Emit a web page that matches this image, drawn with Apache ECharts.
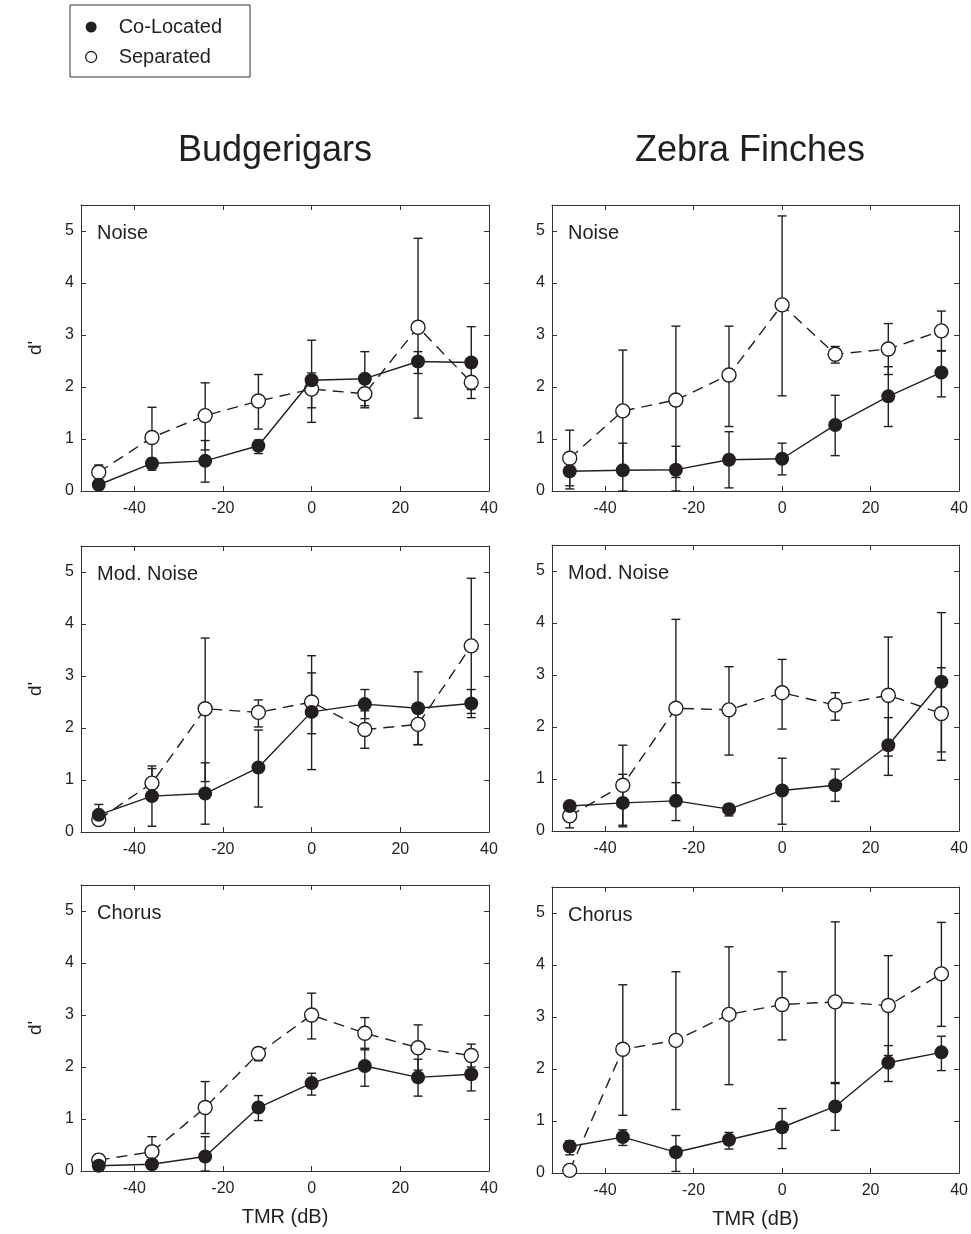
<!DOCTYPE html>
<html>
<head>
<meta charset="utf-8">
<script src="https://cdn.jsdelivr.net/npm/echarts@6/dist/echarts.min.js"></script>
<style>
  html, body { margin: 0; padding: 0; background: #fff; }
  #chart { width: 971px; height: 1234px; }
</style>
</head>
<body>
<div id="chart"></div>
<script>
// TMR values (dB) on the x axis
var tmr = [-48, -36, -24, -12, 0, 12, 24, 36];
var xTicks = [-40, -20, 0, 20, 40];
var yTicks = [0, 1, 2, 3, 4, 5];

// Budgerigars - Noise
var bNoiseCo    = [0.12, 0.53, 0.58, 0.87, 2.13, 2.16, 2.49, 2.47];
var bNoiseCoLo  = [0.04, 0.40, 0.17, 0.72, 1.60, 1.64, 2.26, 1.78];
var bNoiseCoHi  = [0.20, 0.63, 0.97, 0.98, 2.27, 2.68, 2.68, 3.16];
var bNoiseSep   = [0.36, 1.03, 1.45, 1.73, 1.96, 1.87, 3.15, 2.09];
var bNoiseSepLo = [0.22, 0.45, 0.79, 1.19, 1.32, 1.60, 1.40, 1.95];
var bNoiseSepHi = [0.50, 1.61, 2.08, 2.24, 2.90, 2.10, 4.86, 2.20];

// Zebra finches - Noise
var zNoiseCo    = [0.38, 0.40, 0.41, 0.60, 0.62, 1.27, 1.82, 2.28];
var zNoiseCoLo  = [0.04, 0.00, 0.00, 0.06, 0.31, 0.68, 1.24, 1.81];
var zNoiseCoHi  = [0.72, 0.92, 0.86, 1.14, 0.92, 1.84, 2.39, 2.69];
var zNoiseSep   = [0.63, 1.54, 1.75, 2.23, 3.58, 2.63, 2.73, 3.08];
var zNoiseSepLo = [0.10, 0.37, 0.26, 1.24, 1.83, 2.46, 2.24, 2.70];
var zNoiseSepHi = [1.17, 2.71, 3.17, 3.17, 5.29, 2.78, 3.22, 3.46];

// Budgerigars - Mod. Noise
var bModCo    = [0.33, 0.69, 0.74, 1.24, 2.31, 2.46, 2.38, 2.47];
var bModCoLo  = [0.13, 0.11, 0.15, 0.48, 1.20, 2.18, 1.68, 2.20];
var bModCoHi  = [0.53, 1.27, 1.33, 1.96, 3.39, 2.74, 3.08, 2.74];
var bModSep   = [0.24, 0.94, 2.37, 2.30, 2.50, 1.97, 2.07, 3.58];
var bModSepLo = [0.14, 0.66, 0.97, 2.02, 1.89, 1.61, 1.68, 2.28];
var bModSepHi = [0.34, 1.22, 3.73, 2.54, 3.06, 2.33, 2.46, 4.88];

// Zebra finches - Mod. Noise
var zModCo    = [0.48, 0.54, 0.58, 0.42, 0.78, 0.88, 1.65, 2.87];
var zModCoLo  = [0.40, 0.08, 0.20, 0.29, 0.13, 0.57, 1.07, 1.52];
var zModCoHi  = [0.56, 1.09, 0.93, 0.51, 1.40, 1.19, 2.18, 4.20];
var zModSep   = [0.29, 0.88, 2.36, 2.33, 2.66, 2.42, 2.61, 2.26];
var zModSepLo = [0.06, 0.11, 0.65, 1.46, 1.96, 2.13, 1.44, 1.36];
var zModSepHi = [0.52, 1.65, 4.07, 3.16, 3.30, 2.66, 3.73, 3.14];

// Budgerigars - Chorus
var bChorusCo    = [0.10, 0.13, 0.28, 1.22, 1.69, 2.02, 1.80, 1.86];
var bChorusCoLo  = [0.04, 0.07, 0.00, 0.97, 1.46, 1.63, 1.44, 1.54];
var bChorusCoHi  = [0.16, 0.19, 0.66, 1.45, 1.88, 2.36, 2.15, 2.15];
var bChorusSep   = [0.21, 0.37, 1.22, 2.26, 3.00, 2.65, 2.37, 2.22];
var bChorusSepLo = [0.12, 0.08, 0.72, 2.12, 2.54, 2.33, 1.94, 2.00];
var bChorusSepHi = [0.32, 0.66, 1.72, 2.37, 3.42, 2.95, 2.81, 2.44];

// Zebra finches - Chorus
var zChorusCo    = [0.51, 0.69, 0.40, 0.64, 0.88, 1.28, 2.12, 2.32];
var zChorusCoLo  = [0.35, 0.53, 0.03, 0.46, 0.47, 0.82, 1.76, 1.97];
var zChorusCoHi  = [0.62, 0.83, 0.72, 0.78, 1.24, 1.72, 2.45, 2.63];
var zChorusSep   = [0.05, 2.38, 2.55, 3.05, 3.24, 3.29, 3.22, 3.83];
var zChorusSepLo = [0.05, 1.11, 1.22, 1.70, 2.56, 1.74, 2.26, 2.82];
var zChorusSepHi = [0.05, 3.62, 3.87, 4.35, 3.87, 4.83, 4.18, 4.82];

var FONT = '"Liberation Sans", Arial, sans-serif';
var INK = '#231f20';

var panels = [
  {label: 'Noise',      col: 0, row: 0, co: [bNoiseCo, bNoiseCoLo, bNoiseCoHi], sep: [bNoiseSep, bNoiseSepLo, bNoiseSepHi]},
  {label: 'Noise',      col: 1, row: 0, co: [zNoiseCo, zNoiseCoLo, zNoiseCoHi], sep: [zNoiseSep, zNoiseSepLo, zNoiseSepHi]},
  {label: 'Mod. Noise', col: 0, row: 1, co: [bModCo, bModCoLo, bModCoHi], sep: [bModSep, bModSepLo, bModSepHi]},
  {label: 'Mod. Noise', col: 1, row: 1, co: [zModCo, zModCoLo, zModCoHi], sep: [zModSep, zModSepLo, zModSepHi]},
  {label: 'Chorus',     col: 0, row: 2, co: [bChorusCo, bChorusCoLo, bChorusCoHi], sep: [bChorusSep, bChorusSepLo, bChorusSepHi]},
  {label: 'Chorus',     col: 1, row: 2, co: [zChorusCo, zChorusCoLo, zChorusCoHi], sep: [zChorusSep, zChorusSepLo, zChorusSepHi]}
];

// grid geometry (px)
var gridLeft = [81, 552];
var gridWidth = 408;
var gridHeight = 286;
var gridTops = [[205, 546, 885], [205, 545, 887]];

var chart = echarts.init(document.getElementById('chart'));

// error bar with caps
function errRender(params, api) {
  var x = api.value(0), lo = api.value(1), hi = api.value(2);
  if (hi - lo < 0.01) return;
  var top = api.coord([x, hi]);
  var bot = api.coord([x, lo]);
  var w = 4.5;
  var st = {stroke: INK, lineWidth: 1.4};
  return {
    type: 'group',
    children: [
      {type: 'line', shape: {x1: top[0], y1: top[1], x2: bot[0], y2: bot[1]}, style: st},
      {type: 'line', shape: {x1: top[0] - w, y1: top[1], x2: top[0] + w, y2: top[1]}, style: st},
      {type: 'line', shape: {x1: bot[0] - w, y1: bot[1], x2: bot[0] + w, y2: bot[1]}, style: st}
    ]
  };
}

var grid = [], xAxis = [], yAxis = [], series = [], graphic = [];
var axLine = {show: true, onZero: false, lineStyle: {color: '#333', width: 1}};

panels.forEach(function (p, i) {
  grid.push({left: gridLeft[p.col], top: gridTops[p.col][p.row], width: gridWidth, height: gridHeight});

  xAxis.push({
    gridIndex: i, type: 'value', min: -52, max: 40, position: 'bottom',
    axisLine: axLine,
    axisTick: {inside: true, length: 5, customValues: xTicks, lineStyle: {color: '#333'}},
    axisLabel: {customValues: xTicks, fontSize: 16, color: INK, fontFamily: FONT, margin: 10},
    splitLine: {show: false},
    name: p.row === 2 ? 'TMR (dB)' : '',
    nameLocation: 'middle', nameGap: 36,
    nameTextStyle: {fontSize: 20, color: INK, fontFamily: FONT}
  });
  xAxis.push({
    gridIndex: i, type: 'value', min: -52, max: 40, position: 'top',
    axisLine: axLine,
    axisTick: {inside: true, length: 5, customValues: xTicks, lineStyle: {color: '#333'}},
    axisLabel: {show: false},
    splitLine: {show: false}
  });
  yAxis.push({
    gridIndex: i, type: 'value', min: 0, max: 5.5, position: 'left',
    axisLine: axLine,
    axisTick: {inside: true, length: 5, customValues: yTicks, lineStyle: {color: '#333'}},
    axisLabel: {customValues: yTicks, fontSize: 16, color: INK, fontFamily: FONT, margin: 7},
    splitLine: {show: false},
    name: p.col === 0 ? "d'" : '',
    nameLocation: 'middle', nameGap: 36,
    nameTextStyle: {fontSize: 19, color: INK, fontFamily: FONT}
  });
  yAxis.push({
    gridIndex: i, type: 'value', min: 0, max: 5.5, position: 'right',
    axisLine: axLine,
    axisTick: {inside: true, length: 5, customValues: yTicks, lineStyle: {color: '#333'}},
    axisLabel: {show: false},
    splitLine: {show: false}
  });

  var xi = i * 2, yi = i * 2;
  [p.co, p.sep].forEach(function (g) {
    var lo = g[1], hi = g[2];
    series.push({
      type: 'custom', xAxisIndex: xi, yAxisIndex: yi, z: 2, silent: true,
      renderItem: errRender,
      encode: {x: 0, y: [1, 2]},
      data: tmr.map(function (x, k) { return [x, lo[k], hi[k]]; })
    });
  });

  series.push({
    name: 'Separated', type: 'line', xAxisIndex: xi, yAxisIndex: yi, z: 3,
    symbol: 'circle', symbolSize: 14,
    itemStyle: {color: '#fff', borderColor: INK, borderWidth: 1.4},
    lineStyle: {color: INK, width: 1.4, type: [11, 7]},
    data: tmr.map(function (x, k) { return [x, p.sep[0][k]]; })
  });
  series.push({
    name: 'Co-Located', type: 'line', xAxisIndex: xi, yAxisIndex: yi, z: 4,
    symbol: 'circle', symbolSize: 14,
    itemStyle: {color: INK},
    lineStyle: {color: INK, width: 1.4},
    data: tmr.map(function (x, k) { return [x, p.co[0][k]]; })
  });

  graphic.push({
    type: 'text', left: gridLeft[p.col] + 16, top: gridTops[p.col][p.row] + 18,
    style: {text: p.label, fill: INK, font: '20px ' + FONT}
  });
});

graphic.push({
  type: 'text', x: 275, y: 151,
  style: {text: 'Budgerigars', font: '36px ' + FONT, fill: INK, textAlign: 'center', textVerticalAlign: 'middle'}
});
graphic.push({
  type: 'text', x: 750, y: 151,
  style: {text: 'Zebra Finches', font: '36px ' + FONT, fill: INK, textAlign: 'center', textVerticalAlign: 'middle'}
});

var option = {
  animation: false,
  backgroundColor: '#fff',
  legend: {
    orient: 'vertical', left: 70, top: 5,
    borderColor: '#333', borderWidth: 1,
    padding: [12, 28, 10, 15],
    itemGap: 10, itemWidth: 11, itemHeight: 11,
    textStyle: {fontSize: 20, color: INK, fontFamily: FONT, padding: [0, 0, 0, 17]},
    data: [
      {name: 'Co-Located', icon: 'circle', itemStyle: {color: INK}},
      {name: 'Separated', icon: 'circle', itemStyle: {color: '#fff', borderColor: INK, borderWidth: 1.3}}
    ]
  },
  grid: grid,
  xAxis: xAxis,
  yAxis: yAxis,
  series: series,
  graphic: graphic
};
chart.setOption(option);
</script>
</body>
</html>
